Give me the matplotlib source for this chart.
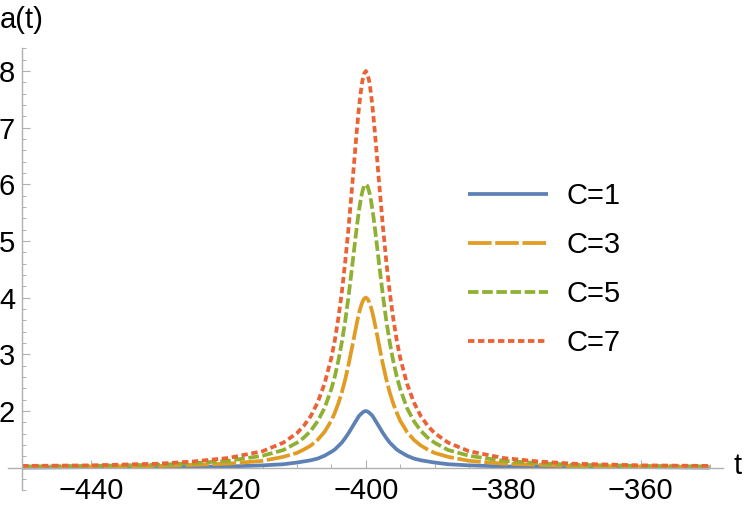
import numpy as np
import matplotlib
matplotlib.use("Agg")
import matplotlib.pyplot as plt
from matplotlib.ticker import MultipleLocator, FixedLocator

plt.rcParams['font.family'] = ['Liberation Sans', 'DejaVu Sans']
plt.rcParams['lines.scale_dashes'] = False

# offsets from the peak at t = -400 (curves are symmetric about the peak)
center = -400
offsets = [0, 0.25, 0.5, 0.75, 1, 1.25, 1.5, 2, 2.5, 3, 3.5, 4, 4.5, 5, 6, 7, 8, 9, 10, 12, 15, 20, 25, 30, 40, 50]
a_C1 = [2.00, 1.99, 1.97, 1.94, 1.91, 1.86, 1.81, 1.71, 1.61, 1.52, 1.44, 1.38, 1.32, 1.28, 1.21, 1.16, 1.13, 1.11, 1.09, 1.06, 1.04, 1.02, 1.02, 1.01, 1.01, 1.00]
a_C3 = [4.00, 3.98, 3.92, 3.83, 3.72, 3.58, 3.43, 3.12, 2.82, 2.55, 2.32, 2.13, 1.97, 1.83, 1.63, 1.49, 1.39, 1.32, 1.26, 1.19, 1.12, 1.07, 1.05, 1.03, 1.02, 1.01]
a_C5 = [6.00, 5.97, 5.87, 5.72, 5.53, 5.30, 5.05, 4.53, 4.03, 3.58, 3.20, 2.88, 2.61, 2.39, 2.05, 1.82, 1.65, 1.53, 1.44, 1.31, 1.21, 1.12, 1.08, 1.05, 1.03, 1.02]
a_C7 = [8.00, 7.95, 7.82, 7.61, 7.34, 7.02, 6.67, 5.94, 5.24, 4.62, 4.08, 3.63, 3.25, 2.94, 2.48, 2.15, 1.91, 1.74, 1.61, 1.44, 1.29, 1.17, 1.11, 1.07, 1.04, 1.03]
labels = ["C=1", "C=3", "C=5", "C=7"]
colors = ["#5E81B5", "#E19C24", "#8FB032", "#EB6235"]
x_ticks = [-440, -420, -400, -380, -360]
y_ticks = [2, 3, 4, 5, 6, 7, 8]

def full_curve(vals):
    d = np.array(offsets, dtype=float)
    v = np.array(vals, dtype=float)
    t = np.concatenate([center - d[::-1], center + d[1:]])
    y = np.concatenate([v[::-1], v[1:]])
    return t, y

fig = plt.figure(figsize=(7.5, 5.11), dpi=100)
ax = fig.add_axes([8/750, (511-490.3)/511, 715/750, 442/511])
ax.set_xlim(-452.04, -348.04)
ax.set_ylim(0.60, 8.40)

styles = [
    dict(linestyle='-'),
    dict(dashes=(17, 2.6)),
    dict(dashes=(7.6, 2.6)),
    dict(dashes=(4.6, 2.6)),
]
for vals, lab, col, st in zip([a_C1, a_C3, a_C5, a_C7], labels, colors, styles):
    t, y = full_curve(vals)
    ax.plot(t, y, color=col, lw=2.7, label=lab, solid_capstyle='butt',
            dash_capstyle='butt', solid_joinstyle='round', **st)

axis_col = '#b0b0b0'
for s in ['top', 'right']:
    ax.spines[s].set_visible(False)
ax.spines['left'].set_position(('data', -450))
ax.spines['bottom'].set_position(('data', 1))
for s in ['left', 'bottom']:
    ax.spines[s].set_color(axis_col)
    ax.spines[s].set_linewidth(1.0)

ax.xaxis.set_major_locator(FixedLocator(x_ticks))
ax.xaxis.set_minor_locator(MultipleLocator(5))
ax.yaxis.set_major_locator(FixedLocator(y_ticks))
ax.yaxis.set_minor_locator(MultipleLocator(0.2))
ax.set_xticklabels([f"\u2212{abs(v)}" for v in x_ticks])
ax.set_yticklabels([str(v) for v in y_ticks])
ax.tick_params(which='major', direction='in', length=5.5, width=0.8, color=axis_col,
               labelsize=21, labelcolor='black')
ax.tick_params(which='minor', direction='in', length=3, width=0.7, color=axis_col)
ax.tick_params(axis='x', which='major', pad=6.5)
ax.tick_params(axis='y', which='major', pad=5)

fig.text(0.0, 1 - 20/511, 'a(t)', ha='left', va='center', fontsize=21)
fig.text(738/750, 1 - 466/511, 't', ha='center', va='center', fontsize=21)

leg = ax.legend(loc='upper left', bbox_to_anchor=(0.607, 0.757), frameon=False,
                fontsize=21, handlelength=2.75, handletextpad=0.62, labelspacing=0.72)

fig.savefig('out.png', dpi=100)
